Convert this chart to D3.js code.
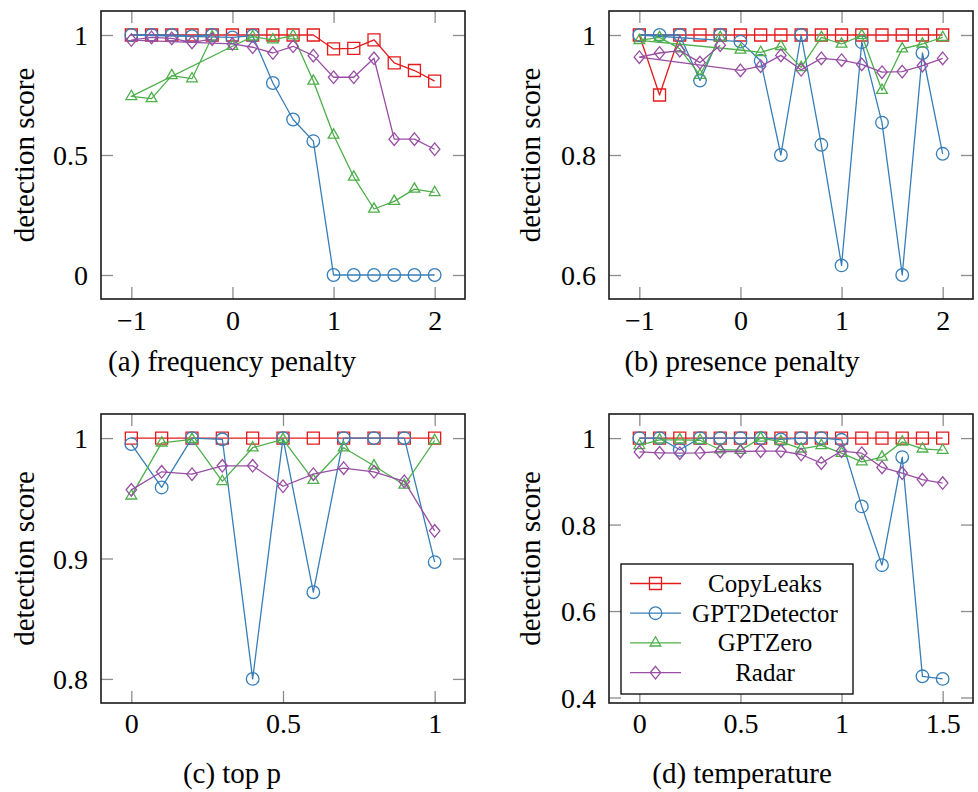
<!DOCTYPE html>
<html>
<head>
<meta charset="utf-8">
<script src="https://cdn.jsdelivr.net/npm/d3@7"></script>
<style>
  html, body { margin: 0; padding: 0; background: #fff; }
  svg { display: block; }
  svg text { font-family: "Liberation Serif", serif !important; }
</style>
</head>
<body>
<svg id="chart" width="978" height="792" font-family="Liberation Serif"></svg>
<script>
// Detectors, in legend order
const detectors = ["CopyLeaks", "GPT2Detector", "GPTZero", "Radar"];

// (a) frequency penalty — points listed in the order they were recorded
const freqX = [-0.2, -0.4, -0.6, -0.8, -1, 0, 0.2, 0.4, 0.6, 0.8, 1, 1.2, 1.4, 1.6, 1.8, 2];
const freqCopyLeaks = [1, 1, 1, 1, 1, 1, 1, 1, 1, 1, 0.942, 0.944, 0.98, 0.884, 0.852, 0.808];
const freqGPT2 = [1, 0.995, 1, 1, 1, 0.99, 0.997, 0.80, 0.648, 0.558, 0, 0, 0, 0, 0, 0];
const freqGPTZero = [0.993, 0.818, 0.831, 0.735, 0.744, 0.953, 0.993, 0.98, 0.997, 0.808, 0.583, 0.408, 0.275, 0.307, 0.358, 0.344];
const freqRadar = [0.983, 0.969, 0.986, 0.99, 0.979, 0.963, 0.949, 0.925, 0.953, 0.914, 0.824, 0.824, 0.903, 0.566, 0.566, 0.524];
const freqTicksX = [-1, 0, 1, 2];
const freqTicksY = [0, 0.5, 1];

// (b) presence penalty
const presX = [-0.2, -0.4, -0.6, -0.8, -1, 0, 0.2, 0.4, 0.6, 0.8, 1, 1.2, 1.4, 1.6, 1.8, 2];
const presCopyLeaks = [1, 1, 1, 0.90, 1, 1, 1, 1, 1, 1, 1, 1, 1, 1, 1, 1];
const presGPT2 = [1, 0.924, 1, 1, 1, 0.989, 0.957, 0.80, 1, 0.817, 0.616, 0.988, 0.854, 0.60, 0.97, 0.802];
const presGPTZero = [0.996, 0.933, 0.977, 0.996, 0.991, 0.975, 0.971, 0.981, 0.946, 0.996, 0.985, 0.999, 0.908, 0.977, 0.985, 0.996];
const presRadar = [0.983, 0.954, 0.974, 0.97, 0.963, 0.941, 0.948, 0.966, 0.942, 0.961, 0.958, 0.951, 0.938, 0.939, 0.949, 0.961];
const presTicksX = [-1, 0, 1, 2];
const presTicksY = [0.6, 0.8, 1];

// (c) top p
const topPX = [0, 0.1, 0.2, 0.3, 0.4, 0.5, 0.6, 0.7, 0.8, 0.9, 1];
const topPCopyLeaks = [1, 1, 1, 1, 1, 1, 1, 1, 1, 1, 1];
const topPGPT2 = [0.995, 0.959, 1, 0.999, 0.80, 1, 0.872, 1, 1, 1, 0.897];
const topPGPTZero = [0.952, 0.996, 0.999, 0.964, 0.992, 0.999, 0.965, 0.992, 0.977, 0.961, 0.998];
const topPRadar = [0.957, 0.972, 0.97, 0.977, 0.977, 0.96, 0.97, 0.975, 0.972, 0.964, 0.923];
const topPTicksX = [0, 0.5, 1];
const topPTicksY = [0.8, 0.9, 1];

// (d) temperature
const tempX = [0, 0.1, 0.2, 0.3, 0.4, 0.5, 0.6, 0.7, 0.8, 0.9, 1, 1.1, 1.2, 1.3, 1.4, 1.5];
const tempCopyLeaks = [1, 1, 1, 1, 1, 1, 1, 1, 1, 1, 1, 1, 1, 1, 1, 1];
const tempGPT2 = [1, 1, 0.973, 1, 1, 1, 1, 0.997, 1, 1, 0.996, 0.842, 0.706, 0.956, 0.449, 0.443];
const tempGPTZero = [0.983, 0.996, 0.996, 0.995, 0.973, 0.972, 1, 0.992, 0.975, 0.983, 0.965, 0.945, 0.956, 0.991, 0.975, 0.972];
const tempRadar = [0.968, 0.966, 0.965, 0.966, 0.969, 0.969, 0.97, 0.97, 0.962, 0.942, 0.97, 0.965, 0.932, 0.919, 0.904, 0.896];
const tempTicksX = [0, 0.5, 1, 1.5];
const tempTicksY = [0.4, 0.6, 0.8, 1];

// Styling
const colors = ["#e41a1c", "#377eb8", "#4daf4a", "#984ea3"];
const circlePath = (() => { const p = d3.path(); p.arc(0, 0, 6.3, 0, 2 * Math.PI); p.closePath(); return p.toString(); })();
const markerPaths = [
  "M-6,-6H6V6H-6Z",                  // square
  circlePath,                        // circle
  "M0,-6.2L5.37,3.1L-5.37,3.1Z",     // triangle
  "M0,-6.3L5.2,0L0,6.3L-5.2,0Z"      // diamond
];

const panels = [
  { x: freqX, series: [freqCopyLeaks, freqGPT2, freqGPTZero, freqRadar], xt: freqTicksX, yt: freqTicksY,
    caption: "(a) frequency penalty", box: [101, 11, 465, 299], labelX: 24, capX: 232, tickDy: 31, capY: 371 },
  { x: presX, series: [presCopyLeaks, presGPT2, presGPTZero, presRadar], xt: presTicksX, yt: presTicksY,
    caption: "(b) presence penalty", box: [609, 11, 973, 299], labelX: 530, capX: 742, tickDy: 31, capY: 371 },
  { x: topPX, series: [topPCopyLeaks, topPGPT2, topPGPTZero, topPRadar], xt: topPTicksX, yt: topPTicksY,
    caption: "(c) top p", box: [101, 414, 465, 703], labelX: 24, capX: 232, tickDy: 30, capY: 783 },
  { x: tempX, series: [tempCopyLeaks, tempGPT2, tempGPTZero, tempRadar], xt: tempTicksX, yt: tempTicksY,
    caption: "(d) temperature", box: [609, 414, 973, 703], labelX: 530, capX: 742, tickDy: 30, capY: 783, legend: true }
];

const svg = d3.select("#chart");
const fmt = d3.format("");

// pgfplots-style enlarged limits: 10% of the data range on each side
function padded(ext) {
  const r = ext[1] - ext[0];
  return [ext[0] - 0.1 * r, ext[1] + 0.1 * r];
}

panels.forEach(p => {
  const [x0, y0, x1, y1] = p.box;
  const xs = d3.scaleLinear().domain(padded(d3.extent(p.x))).range([x0, x1]);
  const ys = d3.scaleLinear().domain(padded(d3.extent(p.series.flat()))).range([y1, y0]);
  const g = svg.append("g");

  // Axes with inward ticks on all four sides
  const styleAxis = sel => {
    sel.attr("font-family", "Liberation Serif").attr("font-size", 28);
    sel.select(".domain").remove();
    sel.selectAll(".tick line").attr("stroke", "#8c8c8c").attr("stroke-width", 1.3);
    sel.selectAll("text").attr("fill", "#000");
  };
  const bottom = g.append("g").attr("transform", `translate(0,${y1})`)
    .call(d3.axisBottom(xs).tickValues(p.xt).tickFormat(fmt).tickSizeInner(-12).tickSizeOuter(0))
    .call(styleAxis);
  bottom.selectAll(".tick text").attr("dy", null).attr("y", p.tickDy);
  g.append("g").attr("transform", `translate(0,${y0})`)
    .call(d3.axisTop(xs).tickValues(p.xt).tickFormat("").tickSizeInner(-12).tickSizeOuter(0))
    .call(styleAxis);
  const left = g.append("g").attr("transform", `translate(${x0},0)`)
    .call(d3.axisLeft(ys).tickValues(p.yt).tickFormat(fmt).tickSizeInner(-12).tickSizeOuter(0).tickPadding(13))
    .call(styleAxis);
  left.selectAll(".tick text").attr("dy", null).attr("dominant-baseline", "central");
  g.append("g").attr("transform", `translate(${x1},0)`)
    .call(d3.axisRight(ys).tickValues(p.yt).tickFormat("").tickSizeInner(-12).tickSizeOuter(0))
    .call(styleAxis);

  // Series: lines then hollow markers
  const line = d3.line().x(d => xs(d[0])).y(d => ys(d[1]));
  p.series.forEach((vals, i) => {
    const pts = p.x.map((xv, k) => [xv, vals[k]]);
    g.append("path").datum(pts).attr("d", line)
      .attr("fill", "none").attr("stroke", colors[i]).attr("stroke-width", 1.3)
      .attr("stroke-linejoin", "round");
    g.append("g").selectAll("path").data(pts).join("path")
      .attr("d", markerPaths[i])
      .attr("transform", d => `translate(${xs(d[0])},${ys(d[1])})`)
      .attr("fill", "none").attr("stroke", colors[i]).attr("stroke-width", 1.3);
  });

  // Frame
  g.append("rect").attr("x", x0).attr("y", y0).attr("width", x1 - x0).attr("height", y1 - y0)
    .attr("fill", "none").attr("stroke", "#1a1a1a").attr("stroke-width", 1.6);

  // Y label
  g.append("text")
    .attr("transform", `translate(${p.labelX},${(y0 + y1) / 2}) rotate(-90)`)
    .attr("text-anchor", "middle").attr("dominant-baseline", "central")
    .attr("font-size", 29).text("detection score");

  // Caption
  g.append("text").attr("x", p.capX).attr("y", p.capY)
    .attr("text-anchor", "middle").attr("font-size", 29).text(p.caption);

  if (p.legend) {
    const lx0 = 621, ly0 = 564, lx1 = 853, ly1 = 694;
    const lg = g.append("g");
    lg.append("rect").attr("x", lx0).attr("y", ly0).attr("width", lx1 - lx0).attr("height", ly1 - ly0)
      .attr("fill", "#fff").attr("stroke", "#000").attr("stroke-width", 1.3);
    detectors.forEach((name, i) => {
      const cy = 583.5 + i * 29.7;
      lg.append("line").attr("x1", 630).attr("x2", 681).attr("y1", cy).attr("y2", cy)
        .attr("stroke", colors[i]).attr("stroke-width", 1.3);
      lg.append("path").attr("d", markerPaths[i]).attr("transform", `translate(655.5,${cy})`)
        .attr("fill", "none").attr("stroke", colors[i]).attr("stroke-width", 1.3);
      lg.append("text").attr("x", 765).attr("y", cy).attr("text-anchor", "middle")
        .attr("dominant-baseline", "central").attr("font-size", 25).text(name);
    });
  }
});
</script>
</body>
</html>
